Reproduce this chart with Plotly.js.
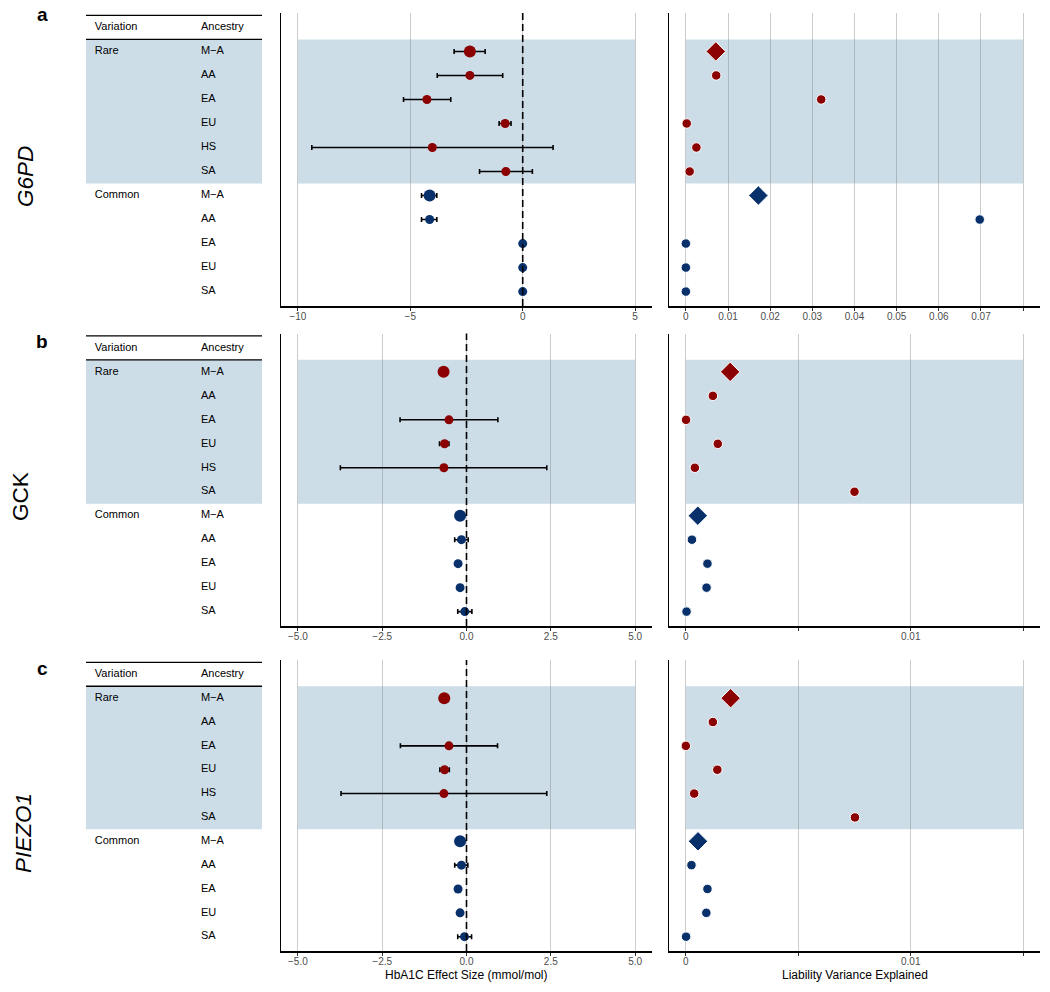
<!DOCTYPE html>
<html>
<head>
<meta charset="utf-8">
<script src="https://cdn.plot.ly/plotly-3.0.1.min.js"></script>
<style>
html,body{margin:0;padding:0;background:#fff;}
#chart{width:1050px;height:992px;}
</style>
</head>
<body>
<div id="chart"></div>
<script>
// ---------------- DATA ----------------
const geneNames = ['G6PD', 'GCK', 'PIEZO1'];
const panelLetters = ['a', 'b', 'c'];
const rowGroup = ['Rare','Rare','Rare','Rare','Rare','Rare','Common','Common','Common','Common','Common'];
const ancestryRows = ['M−A','AA','EA','EU','HS','SA','M−A','AA','EA','EU','SA'];
const pooledLabel = 'M−A';
const tableHeaders = ['Variation', 'Ancestry'];

// G6PD
const g6pdEffect   = [-2.35, -2.35, -4.26, -0.78, -4.02, -0.75, -4.14, -4.14, 0.00, 0.00, 0.00];
const g6pdLower    = [-3.05, -3.80, -5.30, -1.05, -9.38, -1.92, -4.50, -4.50, -0.04, -0.04, -0.04];
const g6pdUpper    = [-1.67, -0.89, -3.20, -0.52,  1.35,  0.43, -3.82, -3.82,  0.04,  0.04,  0.04];
const g6pdVariance = [0.0071, 0.0072, 0.0321, 0.0002, 0.0025, 0.0009, 0.0172, 0.0697, 0.0000, 0.0000, 0.0000];

// GCK
const gckEffect   = [-0.68, null, -0.52, -0.65, -0.67, null, -0.19, -0.15, -0.25, -0.19, -0.05];
const gckLower    = [-0.74, null, -1.97, -0.80, -3.74, null, -0.24, -0.35, -0.29, -0.23, -0.26];
const gckUpper    = [-0.62, null,  0.93, -0.52,  2.38, null, -0.14,  0.05, -0.21, -0.15,  0.16];
const gckVariance = [0.00197, 0.00120, 0.00001, 0.00142, 0.00040, 0.00750, 0.00053, 0.00027, 0.00096, 0.00092, 0.00003];

// PIEZO1
const piezo1Effect   = [-0.66, null, -0.52, -0.65, -0.67, null, -0.19, -0.15, -0.25, -0.19, -0.06];
const piezo1Lower    = [-0.72, null, -1.96, -0.79, -3.72, null, -0.24, -0.35, -0.29, -0.23, -0.26];
const piezo1Upper    = [-0.60, null,  0.92, -0.51,  2.38, null, -0.14,  0.04, -0.21, -0.15,  0.15];
const piezo1Variance = [0.00199, 0.00120, 0.00000, 0.00140, 0.00037, 0.00752, 0.00054, 0.00025, 0.00096, 0.00091, 0.00001];

// tick labels
const effectTicksA  = [-10, -5, 0, 5];
const effectLabelsA = ['−10', '−5', '0', '5'];
const effectTicksBC  = [-5, -2.5, 0, 2.5, 5];
const effectLabelsBC = ['−5.0', '−2.5', '0.0', '2.5', '5.0'];
const varTicksA  = [0, 0.01, 0.02, 0.03, 0.04, 0.05, 0.06, 0.07, 0.08];
const varLabelsA = ['0', '0.01', '0.02', '0.03', '0.04', '0.05', '0.06', '0.07', ''];
const varTicksBC  = [0, 0.005, 0.01, 0.015];
const varLabelsBC = ['0', '', '0.01', ''];

const effectAxisTitle = 'HbA1C Effect Size (mmol/mol)';
const varianceAxisTitle = 'Liability Variance Explained';

// ---------------- STYLE / LAYOUT ----------------
const W = 1050, H = 992;
const FONT = 'Liberation Sans, Arial, Helvetica, sans-serif';
const RARE_COLOR = '#8B0000';
const COMMON_COLOR = '#08306B';
const SHADE = '#CCDDE8';
const GRID = 'rgba(120,120,120,0.38)';

const panels = [
  {effect: g6pdEffect, lower: g6pdLower, upper: g6pdUpper, variance: g6pdVariance,
   effTicks: effectTicksA, effLabels: effectLabelsA, varTicks: varTicksA, varLabels: varLabelsA,
   top: 13, bottom: 306, italic: true, geneX: 25, geneY: 177, letterY: 14.5},
  {effect: gckEffect, lower: gckLower, upper: gckUpper, variance: gckVariance,
   effTicks: effectTicksBC, effLabels: effectLabelsBC, varTicks: varTicksBC, varLabels: varLabelsBC,
   top: 333.5, bottom: 626, italic: false, geneX: 20, geneY: 497, letterY: 341},
  {effect: piezo1Effect, lower: piezo1Lower, upper: piezo1Upper, variance: piezo1Variance,
   effTicks: effectTicksBC, effLabels: effectLabelsBC, varTicks: varTicksBC, varLabels: varLabelsBC,
   top: 660, bottom: 951, italic: true, geneX: 23, geneY: 833, letterY: 668}
];

const colsPx = {table: [86, 262], forest: [281, 652], variance: [669, 1040]};
const tableColX = [0.05, 0.653];
const yRange = [11.6, -0.6];

const dx = p => p / W;
const dy = p => 1 - p / H;
const expand = t => { const lo = Math.min(...t), hi = Math.max(...t), d = (hi - lo) * 0.05; return [lo - d, hi + d]; };
const axName = (k, n) => k + (n === 1 ? '' : n);

const traces = [];
const layout = {
  width: W, height: H, margin: {l: 0, r: 0, t: 0, b: 0},
  paper_bgcolor: '#fff', plot_bgcolor: 'rgba(0,0,0,0)',
  showlegend: false, shapes: [], annotations: [],
  font: {family: FONT, color: '#000'}
};

panels.forEach((P, p) => {
  const yDom = [dy(P.bottom), dy(P.top)];
  const nT = 3 * p + 1, nF = 3 * p + 2, nV = 3 * p + 3;
  const rowsY = ancestryRows.map((_, i) => i + 1);

  // ---- table axes ----
  layout[axName('xaxis', nT)] = {domain: [dx(colsPx.table[0]), dx(colsPx.table[1])], range: [0, 1], visible: false, anchor: axName('y', nT), fixedrange: true};
  layout[axName('yaxis', nT)] = {domain: yDom, range: yRange, visible: false, anchor: axName('x', nT), fixedrange: true};

  const varCol = [tableHeaders[0]].concat(rowGroup.map((g, i) => (i === 0 || rowGroup[i - 1] !== g) ? g : ''));
  const ancCol = [tableHeaders[1]].concat(ancestryRows);
  [varCol, ancCol].forEach((col, c) => {
    traces.push({
      type: 'scatter', mode: 'text', xaxis: axName('x', nT), yaxis: axName('y', nT),
      x: col.map(() => tableColX[c]), y: col.map((_, i) => i),
      text: col, textposition: 'middle right',
      textfont: {family: FONT, size: 11, color: '#000'}, hoverinfo: 'skip', cliponaxis: false
    });
  });
  // table shading & lines
  const firstRare = rowGroup.indexOf('Rare') + 1, lastRare = rowGroup.lastIndexOf('Rare') + 1;
  layout.shapes.push({type: 'rect', layer: 'below', xref: axName('x', nT), yref: axName('y', nT),
    x0: 0, x1: 1, y0: firstRare - 0.5, y1: lastRare + 0.5, fillcolor: SHADE, line: {width: 0}});
  [-0.5, 0.5].forEach(yy => layout.shapes.push({type: 'line', layer: 'above', xref: axName('x', nT), yref: axName('y', nT),
    x0: 0, x1: 1, y0: yy, y1: yy, line: {color: '#000', width: 1.4}}));

  // ---- forest & variance axes ----
  const commonX = (ticks, labels) => ({
    range: expand(ticks), tickmode: 'array', tickvals: ticks, ticktext: labels,
    showgrid: true, gridcolor: GRID, gridwidth: 1, zeroline: false,
    showline: true, linecolor: '#000', linewidth: 1.5,
    ticks: 'outside', ticklen: 3, tickwidth: 1, tickcolor: '#333', ticklabelstandoff: -3,
    tickfont: {family: FONT, size: 10, color: '#4D4D4D'}, fixedrange: true
  });
  const commonY = {domain: yDom, range: yRange, showgrid: false, zeroline: false, showline: true,
    linecolor: '#000', linewidth: 1.5, showticklabels: false, ticks: '', fixedrange: true};

  layout[axName('xaxis', nF)] = Object.assign({domain: [dx(colsPx.forest[0]), dx(colsPx.forest[1])], anchor: axName('y', nF)}, commonX(P.effTicks, P.effLabels));
  layout[axName('yaxis', nF)] = Object.assign({anchor: axName('x', nF)}, commonY);
  layout[axName('xaxis', nV)] = Object.assign({domain: [dx(colsPx.variance[0]), dx(colsPx.variance[1])], anchor: axName('y', nV)}, commonX(P.varTicks, P.varLabels));
  layout[axName('yaxis', nV)] = Object.assign({anchor: axName('x', nV)}, commonY);

  // shading
  [[nF, P.effTicks], [nV, P.varTicks]].forEach(([n, t]) => {
    layout.shapes.push({type: 'rect', layer: 'below', xref: axName('x', n), yref: axName('y', n),
      x0: Math.min(...t), x1: Math.max(...t), y0: firstRare - 0.5, y1: lastRare + 0.5, fillcolor: SHADE, line: {width: 0}});
  });
  // zero dashed line
  layout.shapes.push({type: 'line', layer: 'above', xref: axName('x', nF), yref: axName('y', nF) + ' domain',
    x0: 0, x1: 0, y0: 0, y1: 1, line: {color: '#000', width: 1.6, dash: '7px,4px'}});

  // ---- marks ----
  ['Rare', 'Common'].forEach(g => {
    const color = g === 'Rare' ? RARE_COLOR : COMMON_COLOR;
    const idx = rowGroup.map((gg, i) => i).filter(i => rowGroup[i] === g && P.effect[i] !== null);
    traces.push({
      type: 'scatter', mode: 'markers', xaxis: axName('x', nF), yaxis: axName('y', nF),
      x: idx.map(i => P.effect[i]), y: idx.map(i => rowsY[i]),
      error_x: {type: 'data', symmetric: false,
        array: idx.map(i => P.upper[i] - P.effect[i]), arrayminus: idx.map(i => P.effect[i] - P.lower[i]),
        color: '#000', thickness: 1.6, width: 2.5},
      marker: {color: color, opacity: 1, size: idx.map(i => ancestryRows[i] === pooledLabel ? 12 : 9), line: {width: 0}},
      hoverinfo: 'x', cliponaxis: false
    });
    const vidx = rowGroup.map((gg, i) => i).filter(i => rowGroup[i] === g && P.variance[i] !== null);
    traces.push({
      type: 'scatter', mode: 'markers', xaxis: axName('x', nV), yaxis: axName('y', nV),
      x: vidx.map(i => P.variance[i]), y: vidx.map(i => rowsY[i]),
      marker: {color: color, opacity: 1,
        symbol: vidx.map(i => ancestryRows[i] === pooledLabel ? 'diamond' : 'circle'),
        size: vidx.map(i => ancestryRows[i] === pooledLabel ? 15 : 9.5),
        line: {color: '#fff', width: 1}},
      hoverinfo: 'x', cliponaxis: false
    });
  });

  // ---- annotations ----
  layout.annotations.push({xref: 'paper', yref: 'paper', x: dx(42), y: dy(P.letterY), text: '<b>' + panelLetters[p] + '</b>',
    showarrow: false, xanchor: 'center', yanchor: 'middle', font: {family: FONT, size: 19, color: '#000'}});
  layout.annotations.push({xref: 'paper', yref: 'paper', x: dx(P.geneX), y: dy(P.geneY),
    text: P.italic ? '<i>' + geneNames[p] + '</i>' : geneNames[p], textangle: -90,
    showarrow: false, xanchor: 'center', yanchor: 'middle', font: {family: FONT, size: 22.5, color: '#000'}});
});

// axis titles (bottom row)
layout.annotations.push({xref: 'paper', yref: 'paper', x: dx((colsPx.forest[0] + colsPx.forest[1]) / 2), y: dy(975),
  text: effectAxisTitle, showarrow: false, xanchor: 'center', yanchor: 'middle', font: {family: FONT, size: 12, color: '#000'}});
layout.annotations.push({xref: 'paper', yref: 'paper', x: dx((colsPx.variance[0] + colsPx.variance[1]) / 2), y: dy(975),
  text: varianceAxisTitle, showarrow: false, xanchor: 'center', yanchor: 'middle', font: {family: FONT, size: 12, color: '#000'}});

Plotly.newPlot('chart', traces, layout, {displayModeBar: false, staticPlot: true});
</script>
</body>
</html>
